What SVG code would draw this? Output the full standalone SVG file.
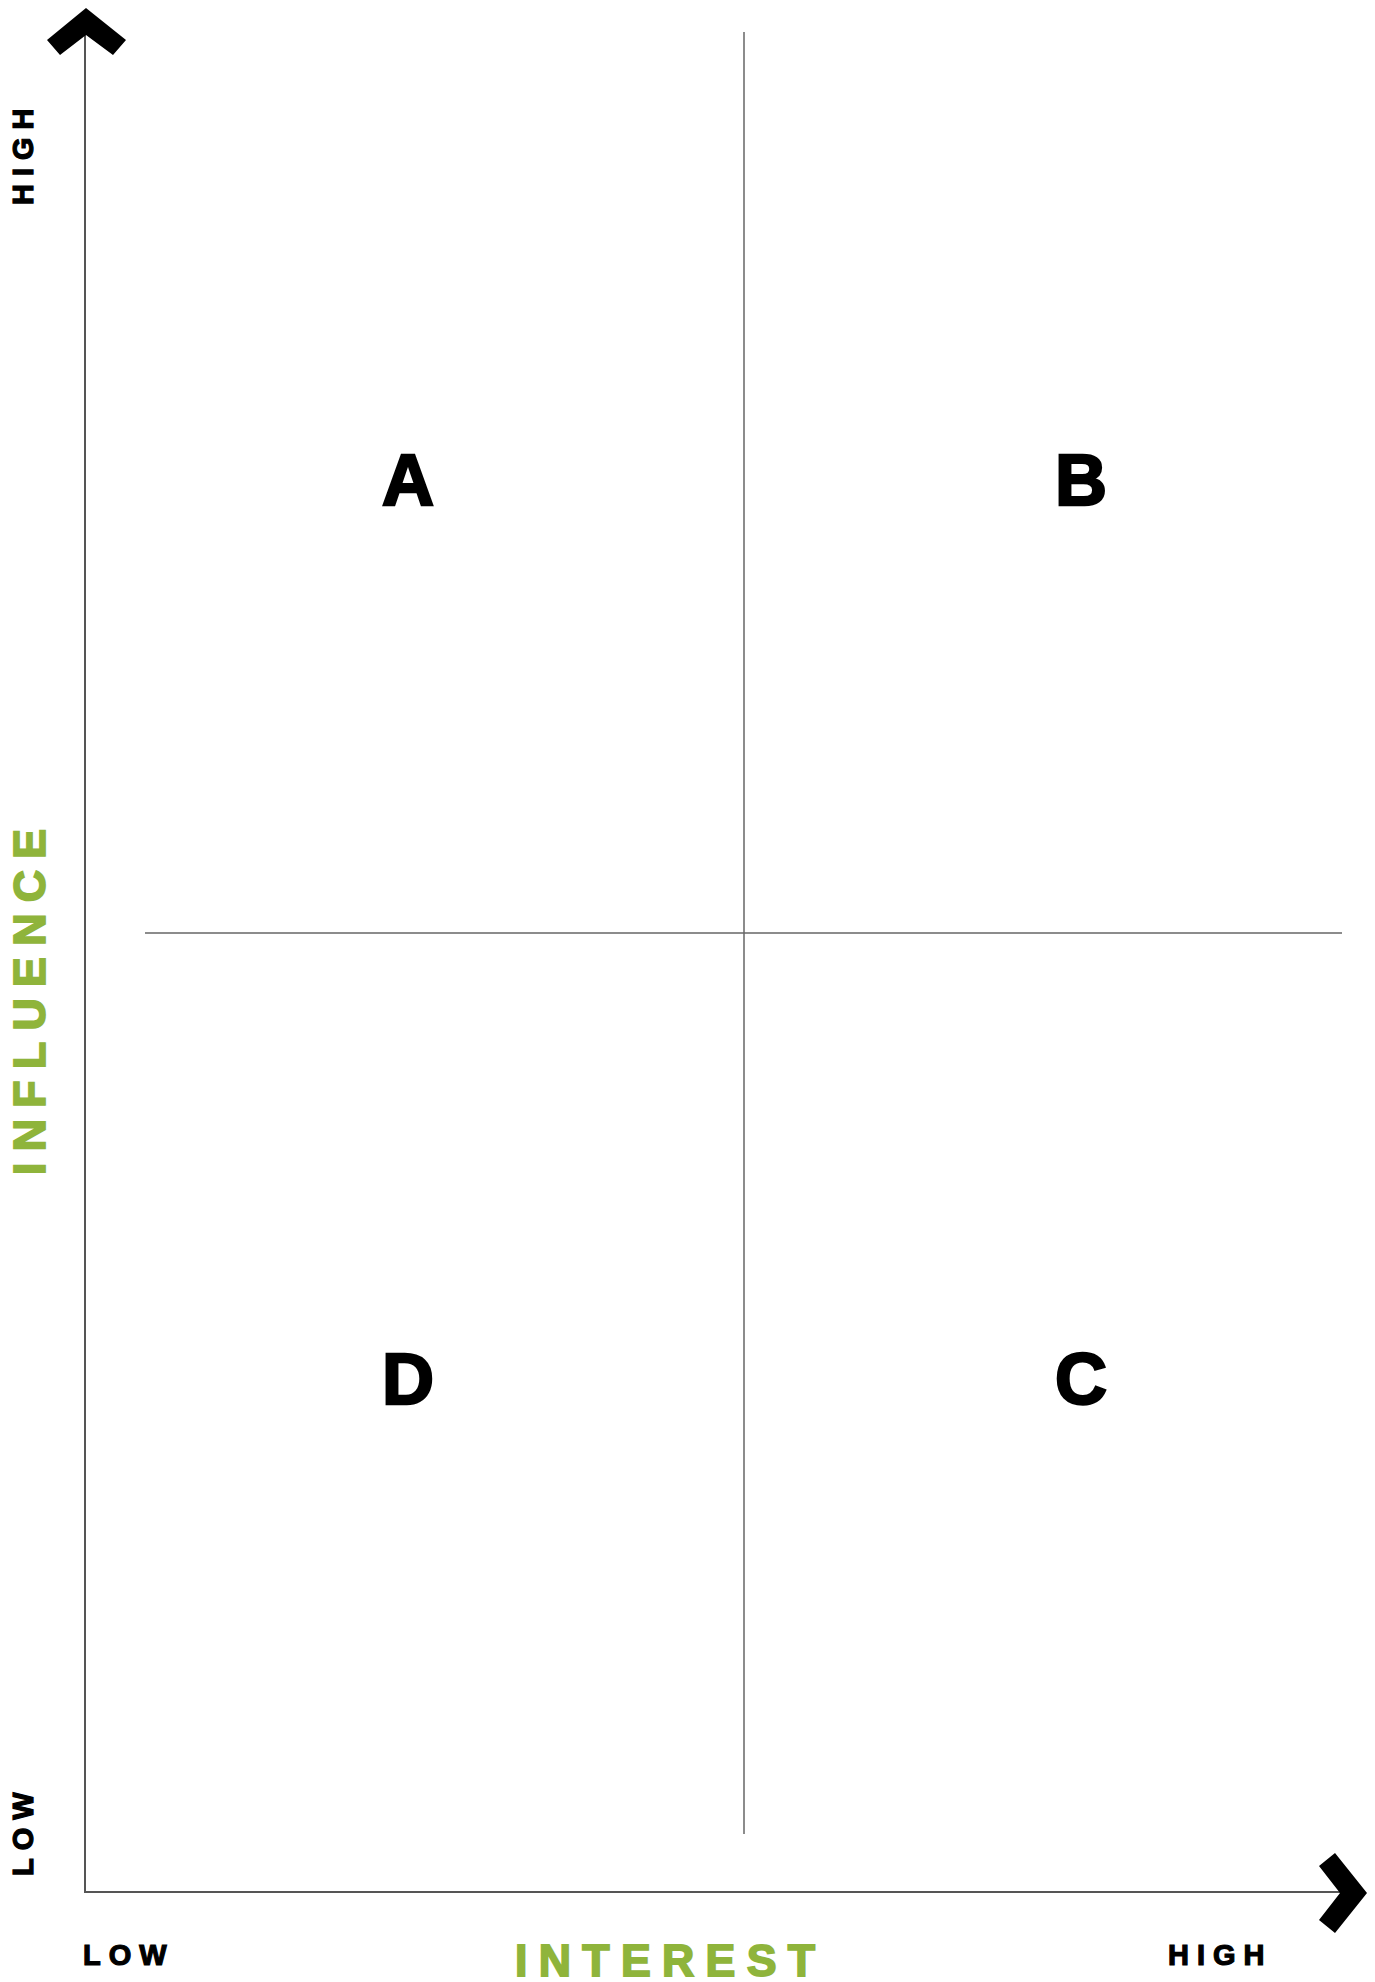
<svg xmlns="http://www.w3.org/2000/svg" width="1375" height="1982" viewBox="0 0 1375 1982">
<style>
.axis{stroke:#555;stroke-width:2;fill:none}
.div{stroke:#666;stroke-width:1.5;fill:none}
.lbl{font-family:"Liberation Sans",Arial,sans-serif;font-weight:bold;fill:#000;stroke:#000;stroke-width:1.2px;font-size:29px;letter-spacing:8px}
.title{font-family:"Liberation Sans",Arial,sans-serif;font-weight:bold;fill:#8fb43b;stroke:#8fb43b;stroke-width:1.8px;font-size:44.7px;letter-spacing:11.3px}
.q{font-family:"Liberation Sans",Arial,sans-serif;font-weight:bold;fill:#000;stroke:#000;stroke-width:2.5px;font-size:72px;text-anchor:middle}
</style>
<rect width="1375" height="1982" fill="#fff"/>
<g id="connectors">
<line class="axis" x1="85" y1="34" x2="85" y2="1893"/>
<line class="axis" x1="84" y1="1892" x2="1340" y2="1892"/>
<line class="div" x1="744" y1="32" x2="744" y2="1834"/>
<line class="div" x1="145" y1="933" x2="1342" y2="933"/>
<polygon points="86,8 126,40 113,55 86,35 60,55 47,40" fill="#000"/>
<polygon points="1367,1893 1335,1933 1319,1920 1340,1893 1319,1866 1335,1853" fill="#000"/>
</g>
<g id="axis-labels">
<text class="lbl" x="83" y="1965">LOW</text>
<text class="lbl" x="1168" y="1965">HIGH</text>
<text class="lbl" transform="translate(33,205) rotate(-90)">HIGH</text>
<text class="lbl" transform="translate(33,1876) rotate(-90)">LOW</text>
<text class="title" x="515" y="1976">INTEREST</text>
<text class="title" transform="translate(45,1175) rotate(-90)">INFLUENCE</text>
</g>
<g id="node-A"><text class="q" x="408" y="505">A</text></g>
<g id="node-B"><text class="q" x="1081" y="505">B</text></g>
<g id="node-C"><text class="q" x="1081" y="1404">C</text></g>
<g id="node-D"><text class="q" x="408" y="1404">D</text></g>
</svg>
